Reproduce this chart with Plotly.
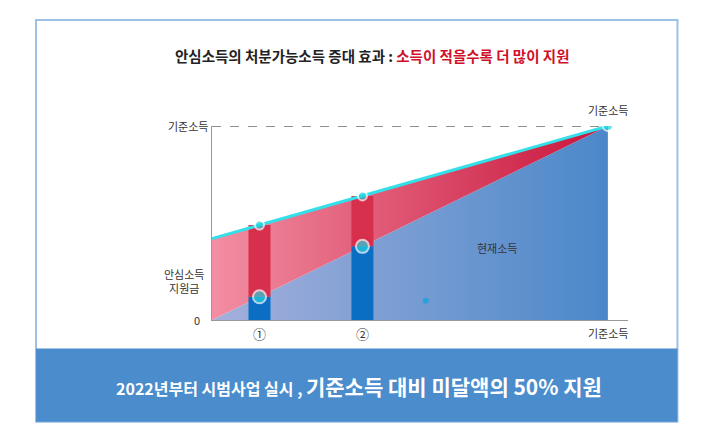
import plotly.graph_objects as go

# values (x, y as share of 기준소득)
line_x = [0, 1]
base_line_y = [0, 1]          # 현재소득 (y = x)
top_line_y = [0.42, 1.0]      # 처분가능소득
bar_x = [0.12, 0.38]
bar_labels = ["①", "②"]
bar_income = [0.12, 0.38]
bar_total = [0.49, 0.64]
font = "Noto Sans CJK KR"

fig = go.Figure()

# 현재소득 area
fig.add_trace(go.Scatter(
    x=[0, 1, 1, 0], y=[0, 1, 0, 0], mode="lines", line=dict(width=0),
    fill="toself",
    fillgradient=dict(type="horizontal", colorscale=[[0, "#a4b0dc"], [1, "#4b88c9"]]),
    hoverinfo="skip"))
# 지원금 area
fig.add_trace(go.Scatter(
    x=[0, 1, 1, 0, 0], y=[top_line_y[0], top_line_y[1], base_line_y[1], base_line_y[0], top_line_y[0]],
    mode="lines", line=dict(width=0), fill="toself",
    fillgradient=dict(type="horizontal", colorscale=[[0, "#f28ea3"], [1, "#c8143a"]]),
    hoverinfo="skip"))
# bars (thick line segments so they sit above the filled areas)
for x, inc, tot in zip(bar_x, bar_income, bar_total):
    fig.add_trace(go.Scatter(x=[x, x], y=[0, inc], mode="lines",
                             line=dict(color="#0a6fc2", width=22)))
    fig.add_trace(go.Scatter(x=[x, x], y=[inc, tot], mode="lines",
                             line=dict(color="#d7304c", width=22)))
# top line
fig.add_trace(go.Scatter(x=line_x, y=top_line_y, mode="lines", line=dict(color="#33dfe8", width=3)))
# dots
fig.add_trace(go.Scatter(
    x=bar_x + bar_x + [1], y=bar_income + bar_total + [1], mode="markers",
    marker=dict(color="#22d3e0", size=[13, 13, 9, 9, 10], line=dict(color="white", width=2))))
fig.add_trace(go.Scatter(x=[0.54], y=[0.1], mode="markers", marker=dict(color="#2aa0dc", size=6)))

# dashed 기준소득 line
fig.add_shape(type="line", x0=0, x1=1, y0=1, y1=1, line=dict(color="#444", width=1, dash="dash"))

# frame + banner
fig.add_shape(type="rect", xref="paper", yref="paper", x0=0.04, x1=0.955, y0=0.04, y1=0.972,
              line=dict(color="#9cc0e6", width=2), fillcolor="rgba(0,0,0,0)", layer="below")
fig.add_shape(type="rect", xref="paper", yref="paper", x0=0.04, x1=0.955, y0=0.04, y1=0.21,
              line=dict(width=0), fillcolor="#4a8ccc", layer="below")

ann = [
    dict(x=0.5, y=0.123, xref="paper", yref="paper", yanchor="middle", font=dict(size=16, color="white"),
         text="<b>2022년부터 시범사업 실시 , <span style='font-size:21px'>기준소득 대비 미달액의 50% 지원</span></b>"),
    dict(x=0.52, y=0.889, xref="paper", yref="paper", xanchor="center", yanchor="middle",
         font=dict(size=14.5, color="#222"),
         text="<b>안심소득의 처분가능소득 증대 효과 : <span style='color:#d0102a'>소득이 적을수록 더 많이 지원</span></b>"),
    dict(x=0, y=1, xanchor="right", yanchor="middle", xshift=-2, text="기준소득"),
    dict(x=0, y=0.2, xanchor="right", yanchor="middle", xshift=-6, text="안심소득<br>지원금"),
    dict(x=0, y=0, xanchor="right", yanchor="middle", xshift=-10, text="0"),
    dict(x=1, y=1, yanchor="bottom", yshift=6, text="기준소득"),
    dict(x=1, y=0, yanchor="top", yshift=-3, text="기준소득"),
    dict(x=0.72, y=0.37, text="현재소득"),
]
for i, lab in enumerate(bar_labels):
    ann.append(dict(x=bar_x[i], y=0, yanchor="top", yshift=-2, text=lab, font=dict(size=13, color="#333")))
for a in ann:
    a.setdefault("font", dict(size=11, color="#333"))
    a["showarrow"] = False
fig.update_layout(annotations=ann)

fig.update_layout(
    width=701, height=431, margin=dict(l=0, r=0, t=0, b=0),
    paper_bgcolor="white", plot_bgcolor="rgba(0,0,0,0)",
    showlegend=False, font=dict(family=font),
    xaxis=dict(domain=[0.291, 0.884], range=[0, 1.05], showgrid=False, zeroline=False,
               showticklabels=False, showline=True, linecolor="#999", linewidth=1),
    yaxis=dict(domain=[0.276, 0.726], range=[0, 1], showgrid=False, zeroline=False,
               showticklabels=False, showline=True, linecolor="#999", linewidth=1),
)
fig.write_html("out.html")
